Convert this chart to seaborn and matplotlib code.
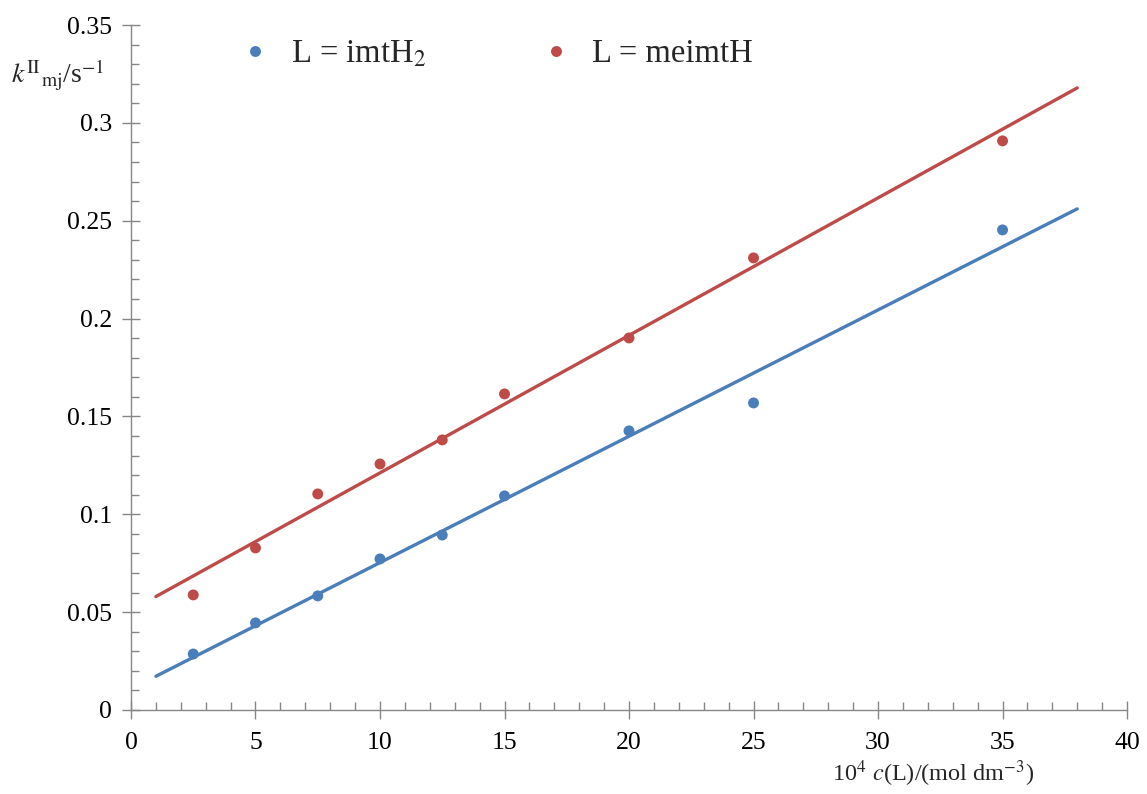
import matplotlib
matplotlib.use("Agg")
import matplotlib.pyplot as plt
import numpy as np
import pandas as pd
import seaborn as sns
from matplotlib.ticker import FuncFormatter, MultipleLocator

conc = [2.5, 5, 7.5, 10, 12.5, 15, 20, 25, 35]
k_imth2 = [0.0286, 0.0445, 0.0583, 0.0772, 0.0894, 0.1094, 0.1426, 0.1569, 0.2453]
k_meimth = [0.0588, 0.0828, 0.1104, 0.1257, 0.1380, 0.1615, 0.1901, 0.2310, 0.2908]
series_labels = [r"L = imtH$_2$", "L = meimtH"]
fit_range = [1, 38]

BLUE = "#4A7EBB"
RED = "#BE4B48"
GREY = "#868686"

sns.set_style("white")
plt.rcParams["font.family"] = ["Liberation Serif", "DejaVu Serif"]
plt.rcParams["mathtext.fontset"] = "stix"

df = pd.DataFrame({
    "conc": conc * 2,
    "k": k_imth2 + k_meimth,
    "series": [series_labels[0]] * len(conc) + [series_labels[1]] * len(conc),
})

fig = plt.figure(figsize=(11.47, 7.94), dpi=100)
ax = fig.add_axes([0.1142, 0.1058, 0.8684, 0.8627])

palette = {series_labels[0]: BLUE, series_labels[1]: RED}
sns.scatterplot(data=df, x="conc", y="k", hue="series", palette=palette, s=62,
                edgecolor="none", ax=ax, zorder=3)

# least-squares lines over the fitted range
xs = np.array(fit_range, dtype=float)
for label, vals in zip(series_labels, [k_imth2, k_meimth]):
    slope, icpt = np.polyfit(conc, vals, 1)
    sns.lineplot(x=xs, y=slope * xs + icpt, color=palette[label], lw=2.4, ax=ax, legend=False, zorder=2)

ax.set_xlim(0, 40)
ax.set_ylim(0, 0.35)
ax.xaxis.set_major_locator(MultipleLocator(5))
ax.xaxis.set_minor_locator(MultipleLocator(1))
ax.yaxis.set_major_locator(MultipleLocator(0.05))
ax.yaxis.set_minor_locator(MultipleLocator(0.01))
ax.yaxis.set_major_formatter(FuncFormatter(lambda v, p: f"{v:g}"))
ax.tick_params(which="major", direction="inout", length=13, width=1, color=GREY,
               labelsize=18.5, labelcolor="black")
ax.tick_params(axis="x", which="major", pad=9)
ax.tick_params(axis="y", which="major", pad=7)
ax.tick_params(which="minor", direction="in", length=6, width=1, color=GREY)
ax.tick_params(axis="x", which="both", bottom=True, top=False)
ax.tick_params(axis="y", which="both", left=True, right=False)

for side in ["top", "right"]:
    ax.spines[side].set_visible(False)
for side in ["left", "bottom"]:
    ax.spines[side].set_color(GREY)
    ax.spines[side].set_linewidth(1)

ax.set_xlabel("")
ax.set_ylabel("")
fig.text(0.8134, 0.006, r"10$^4$ $c$(L)/(mol dm$^{-3}$)", fontsize=17.5, ha="center", va="bottom")
fig.text(0.010, 0.895, r"$k^{\mathrm{II}}{}_{\mathrm{mj}}$/s$^{-1}$", fontsize=20, ha="left", va="baseline")

handles, labels = ax.get_legend_handles_labels()
ax.legend(handles, labels, loc="center left", bbox_to_anchor=(0.2084, 0.932), bbox_transform=fig.transFigure,
          ncol=2, frameon=False, fontsize=23.5, handlelength=1.0, handletextpad=0.58,
          columnspacing=3.5, borderpad=0, borderaxespad=0, markerscale=1.0)

fig.savefig("out.png", dpi=100)
